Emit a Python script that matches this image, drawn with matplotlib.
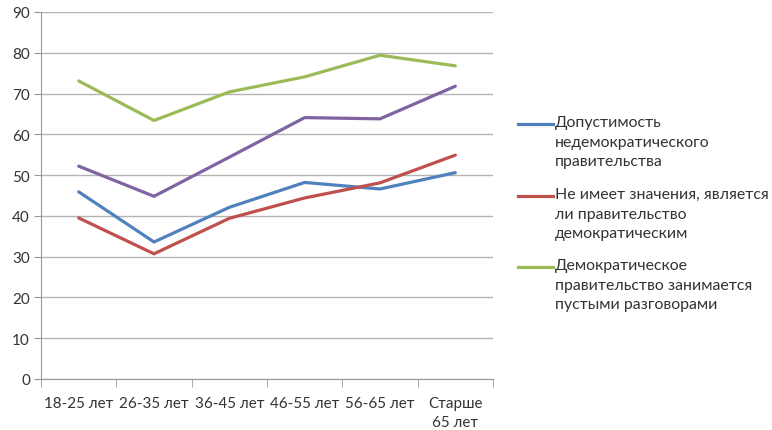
import matplotlib.pyplot as plt
import matplotlib.lines as mlines
import numpy as np

plt.rcParams['font.family'] = ['Lato', 'DejaVu Sans']

categories = ["18-25 лет", "26-35 лет", "36-45 лет", "46-55 лет", "56-65 лет", "Старше\n65 лет"]
nondemocratic = [45.9, 33.6, 42.1, 48.2, 46.6, 50.6]
no_difference = [39.5, 30.7, 39.4, 44.4, 48.1, 54.9]
empty_talk = [73.1, 63.4, 70.4, 74.1, 79.4, 76.8]
unnamed_series = [52.2, 44.8, 54.4, 64.1, 63.8, 71.8]

labels = [
    "Допустимость\nнедемократического\nправительства",
    "Не имеет значения, является\nли правительство\nдемократическим",
    "Демократическое\nправительство занимается\nпустыми разговорами",
]
colours = ["#4F81BD", "#C0504D", "#9BBB59", "#8064A2"]
text_col = "#333333"

fig = plt.figure(figsize=(7.72, 4.31), dpi=100)
ax = fig.add_axes([41/772, 1-380/431, 452/772, 367/431])

x = np.arange(len(categories))
series = [nondemocratic, no_difference, empty_talk, unnamed_series]
for s, c in zip(series, colours):
    ax.plot(x, s, color=c, linewidth=2.3, solid_capstyle='round', solid_joinstyle='round', zorder=3)

ax.set_xlim(-0.5, len(categories) - 0.5)
ax.set_ylim(0, 90)
ax.set_yticks(np.arange(0, 91, 10))
ax.yaxis.grid(True, color="#b3b3b3", linewidth=1)
ax.set_axisbelow(True)

# category labels between boundary ticks
ax.set_xticks(x)
ax.set_xticklabels(categories, fontsize=10.9, color=text_col, linespacing=1.45)
ax.set_xticks(np.arange(-0.5, len(categories)), minor=True)
ax.tick_params(axis='x', which='major', length=0, pad=12)
ax.tick_params(axis='x', which='minor', length=6, color="#999999", direction='out')
ax.tick_params(axis='y', length=5, color="#999999", labelsize=11, labelcolor=text_col, pad=3)

for side in ["top", "right"]:
    ax.spines[side].set_visible(False)
ax.spines["left"].set_color("#999999")
ax.spines["bottom"].set_color("#999999")

# legend, handle at first text line as in the original
legend_y = [125, 197, 268]
for lab, c, yy in zip(labels, colours, legend_y):
    yf = 1 - yy/431
    fig.add_artist(mlines.Line2D([518/772, 553/772], [yf, yf], color=c, linewidth=2.3,
                                 transform=fig.transFigure))
    fig.text(555/772, yf + 9/431, lab, fontsize=11.4, color=text_col, va='top', ha='left',
             linespacing=1.52)

fig.savefig("out.png", dpi=100)
